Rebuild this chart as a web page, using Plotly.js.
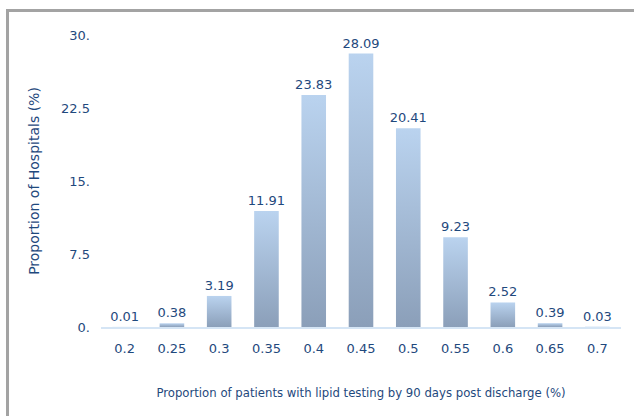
<!DOCTYPE html>
<html>
<head>
<meta charset="utf-8">
<script src="https://cdn.plot.ly/plotly-3.0.1.min.js"></script>
<style>
  html, body { margin: 0; padding: 0; background: #ffffff; overflow: hidden; }
  #frame { position: absolute; left: 6px; top: 9px; width: 700px; height: 500px;
           border-top: 3px solid #a3a3a3; border-left: 3px solid #a3a3a3; }
  #chart { position: absolute; left: 0; top: 0; width: 634px; height: 416px; }
</style>
</head>
<body>
<div id="frame"></div>
<div id="chart"></div>
<script>
// Data
const categories = ["0.2", "0.25", "0.3", "0.35", "0.4", "0.45", "0.5", "0.55", "0.6", "0.65", "0.7"];
const values = [0.01, 0.38, 3.19, 11.91, 23.83, 28.09, 20.41, 9.23, 2.52, 0.39, 0.03];
const yTickVals = [0, 7.5, 15, 22.5, 30];
const yTickText = ["0.", "7.5", "15.", "22.5", "30."];

const textColor = "#1f497d";
const fontFam = "'DejaVu Sans', sans-serif";

const trace = {
  type: "bar",
  x: categories,
  y: values,
  text: values.map(v => v.toFixed(2)),
  textposition: "outside",
  constraintext: "none",
  cliponaxis: false,
  textfont: { family: fontFam, size: 13, color: textColor },
  marker: { color: "#a5bad6", line: { width: 0 } },
  hoverinfo: "none"
};

const layout = {
  width: 634,
  height: 416,
  margin: { l: 101, r: 13, t: 35, b: 89 },
  paper_bgcolor: "rgba(0,0,0,0)",
  plot_bgcolor: "rgba(0,0,0,0)",
  bargap: 0.48,
  showlegend: false,
  font: { family: fontFam, color: textColor, size: 13 },
  xaxis: {
    type: "category",
    showgrid: false,
    zeroline: false,
    showline: true,
    linecolor: "#d5e5f5",
    linewidth: 2,
    ticks: "",
    ticklabelstandoff: 8,
    tickfont: { family: fontFam, size: 13, color: textColor },
    title: { text: "Proportion of patients with lipid testing by 90 days post discharge (%)",
             font: { family: fontFam, size: 11.7, color: textColor }, standoff: 34 }
  },
  yaxis: {
    range: [0, 30],
    showgrid: false,
    zeroline: false,
    showline: false,
    ticks: "",
    tickvals: yTickVals,
    ticktext: yTickText,
    ticklabelstandoff: 10,
    tickfont: { family: fontFam, size: 13, color: textColor },
    title: { text: "Proportion of Hospitals (%)",
             font: { family: fontFam, size: 14, color: textColor }, standoff: 18 }
  }
};

Plotly.newPlot("chart", [trace], layout, { displayModeBar: false, staticPlot: true }).then(function (gd) {
  const svg = gd.querySelector("svg.main-svg");
  const NS = "http://www.w3.org/2000/svg";
  let defs = svg.querySelector("defs");
  if (!defs) { defs = document.createElementNS(NS, "defs"); svg.insertBefore(defs, svg.firstChild); }
  const grad = document.createElementNS(NS, "linearGradient");
  grad.setAttribute("id", "barGrad");
  grad.setAttribute("x1", "0"); grad.setAttribute("y1", "0");
  grad.setAttribute("x2", "0"); grad.setAttribute("y2", "1");
  const s1 = document.createElementNS(NS, "stop");
  s1.setAttribute("offset", "0"); s1.setAttribute("stop-color", "#bad3ef");
  const s2 = document.createElementNS(NS, "stop");
  s2.setAttribute("offset", "1"); s2.setAttribute("stop-color", "#8b9fb9");
  grad.appendChild(s1); grad.appendChild(s2);
  defs.appendChild(grad);
  gd.querySelectorAll(".bars .point path").forEach(function (p) {
    p.style.fill = "url(#barGrad)";
  });
});
</script>
</body>
</html>
